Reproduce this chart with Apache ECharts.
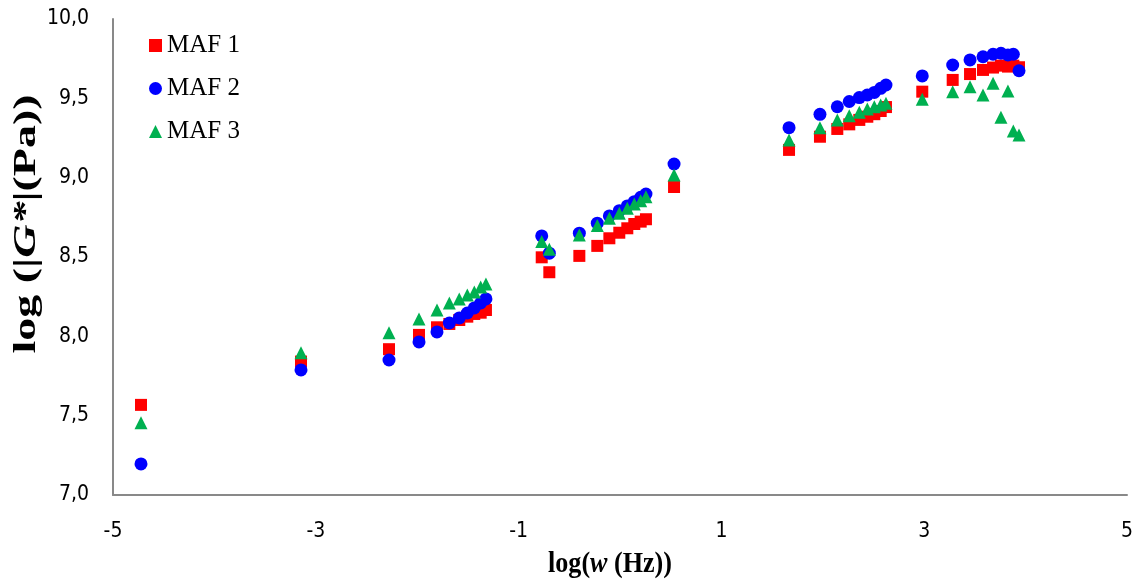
<!DOCTYPE html>
<html>
<head>
<meta charset="utf-8">
<script src="https://cdn.jsdelivr.net/npm/echarts@6/dist/echarts.min.js"></script>
<style>
  html, body { margin: 0; padding: 0; background: #fff; }
  #chart { width: 1141px; height: 583px; }
</style>
</head>
<body>
<div id="chart"></div>
<script>
// log(w) positions of the measured frequencies (shared by all three mixes)
const logW = [
  -4.724, -3.146, -2.278, -1.982, -1.805, -1.683, -1.585, -1.506, -1.437, -1.374, -1.322,
  -0.772, -0.697, -0.401, -0.224, -0.105, -0.007, 0.072, 0.141, 0.204, 0.256, 0.533,
  1.667, 1.972, 2.143, 2.261, 2.360, 2.439, 2.508, 2.571, 2.623,
  2.981, 3.281, 3.452, 3.580, 3.679, 3.757, 3.826, 3.879, 3.935
];

// log(|G*|) for each mix
const maf1 = [
  7.568, 7.841, 7.919, 8.009, 8.057, 8.078, 8.103, 8.124, 8.141, 8.149, 8.166,
  8.498, 8.404, 8.507, 8.570, 8.618, 8.653, 8.681, 8.708, 8.723, 8.738, 8.941,
  9.175, 9.258, 9.307, 9.336, 9.364, 9.384, 9.400, 9.420, 9.445,
  9.542, 9.616, 9.653, 9.679, 9.694, 9.706, 9.700, 9.706, 9.696
];
const maf2 = [
  7.196, 7.788, 7.851, 7.965, 8.028, 8.084, 8.116, 8.147, 8.179, 8.210, 8.236,
  8.633, 8.524, 8.650, 8.713, 8.759, 8.792, 8.822, 8.849, 8.876, 8.897, 9.086,
  9.315, 9.399, 9.447, 9.480, 9.505, 9.521, 9.537, 9.563, 9.584,
  9.641, 9.710, 9.742, 9.762, 9.778, 9.784, 9.773, 9.778, 9.674
];
const maf3 = [
  7.456, 7.897, 8.023, 8.110, 8.166, 8.210, 8.236, 8.261, 8.280, 8.311, 8.330,
  8.597, 8.549, 8.639, 8.698, 8.744, 8.776, 8.807, 8.834, 8.855, 8.880, 9.017,
  9.238, 9.315, 9.364, 9.391, 9.412, 9.433, 9.447, 9.458, 9.469,
  9.494, 9.542, 9.573, 9.521, 9.595, 9.381, 9.546, 9.294, 9.269
];

const seriesNames = ['MAF 1', 'MAF 2', 'MAF 3'];

const pairs = ys => logW.map((x, i) => [x, ys[i]]);

const tickFont = "'Liberation Sans Narrow', 'DejaVu Sans Condensed', sans-serif";
const serif = "'Liberation Serif', 'DejaVu Serif', serif";
const axisGrey = '#898989';

// bold serif runs for the axis titles, with an italic variable
const titleRich = size => ({
  b: { fontFamily: serif, fontWeight: 'bold', fontSize: size, fill: '#000' },
  bi: { fontFamily: serif, fontWeight: 'bold', fontStyle: 'italic', fontSize: size, fill: '#000' }
});

const chart = echarts.init(document.getElementById('chart'));
chart.setOption({
  animation: false,
  backgroundColor: '#ffffff',
  grid: { left: 113, right: 14, top: 19, bottom: 88, containLabel: false },
  legend: {
    orient: 'vertical',
    left: 144,
    top: 28,
    itemGap: 18,
    itemWidth: 13,
    itemHeight: 13,
    textStyle: { fontFamily: serif, fontSize: 25, color: '#000' },
    data: seriesNames
  },
  graphic: [
    {
      // vertical axis title, reading bottom to top
      type: 'text',
      x: 27, y: 224,
      rotation: Math.PI / 2,
      scaleX: 1, scaleY: 0.68,
      style: {
        text: '{b|log (|}{bi|G*}{b||(Pa))}',
        rich: titleRich(46),
        align: 'center',
        verticalAlign: 'middle'
      }
    },
    {
      // horizontal axis title
      type: 'text',
      x: 610, y: 565,
      scaleX: 0.9, scaleY: 1,
      style: {
        text: '{b|log(}{bi|w}{b| (Hz))}',
        rich: titleRich(29),
        align: 'center',
        verticalAlign: 'middle'
      }
    }
  ],
  xAxis: {
    type: 'value',
    min: -5, max: 5, interval: 2,
    axisLine: { show: true, onZero: false, lineStyle: { color: axisGrey, width: 2 } },
    axisTick: { show: false },
    splitLine: { show: false },
    axisLabel: {
      margin: 26,
      fontFamily: tickFont, fontSize: 21, color: '#000',
      formatter: v => String(v)
    }
  },
  yAxis: {
    type: 'value',
    min: 7, max: 10, interval: 0.5,
    axisLine: { show: true, onZero: false, lineStyle: { color: axisGrey, width: 2 } },
    axisTick: { show: false },
    splitLine: { show: false },
    axisLabel: {
      margin: 24,
      fontFamily: tickFont, fontSize: 21, color: '#000',
      formatter: v => v.toFixed(1).replace('.', ',')
    }
  },
  series: [
    {
      name: seriesNames[0], type: 'scatter', symbol: 'rect', symbolSize: 12,
      itemStyle: { color: '#ff0000', opacity: 1 }, data: pairs(maf1), z: 2
    },
    {
      name: seriesNames[1], type: 'scatter', symbol: 'circle', symbolSize: 13,
      itemStyle: { color: '#0000ff', opacity: 1 }, data: pairs(maf2), z: 3
    },
    {
      name: seriesNames[2], type: 'scatter', symbol: 'triangle', symbolSize: 13,
      itemStyle: { color: '#00b050', opacity: 1 }, data: pairs(maf3), z: 4
    }
  ]
});
</script>
</body>
</html>
